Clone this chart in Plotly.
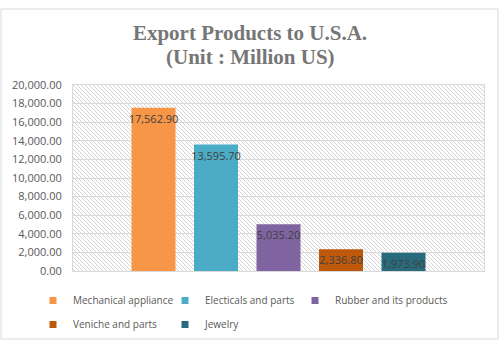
import base64
import plotly.graph_objects as go

categories = ["Mechanical appliance", "Electicals and parts", "Rubber and its products",
              "Veniche and parts", "Jewelry"]
values = [17562.90, 13595.70, 5035.20, 2336.80, 1973.90]
colors = ["#F79646", "#4BACC6", "#8064A2", "#BE590B", "#286B7C"]
y_ticks = [0, 2000, 4000, 6000, 8000, 10000, 12000, 14000, 16000, 18000, 20000]
title_lines = ["Export Products to U.S.A.", "(Unit : Million US)"]

W, H = 500, 350
L, R, T, B = 73, 16, 85, 79
PW, PH = W - L - R, H - T - B

# hatch background (diagonal lines) as an SVG image behind the plot area
svg = f'''<svg xmlns="http://www.w3.org/2000/svg" width="{PW}" height="{PH}">
<defs><pattern id="h" patternUnits="userSpaceOnUse" width="4" height="4">
<path d="M-1,-1 L5,5 M-1,3 L1,5 M3,-1 L5,1" stroke="#d4d4d4" stroke-width="1"/>
</pattern></defs><rect width="{PW}" height="{PH}" fill="url(#h)"/></svg>'''
src = "data:image/svg+xml;base64," + base64.b64encode(svg.encode()).decode()

fig = go.Figure()
fig.add_trace(go.Bar(
    x=categories, y=values, marker=dict(color=colors, line=dict(width=0)),
    text=[f"{v:,.2f}" for v in values], textposition="inside", insidetextanchor="end",
    textangle=0, constraintext="none", cliponaxis=False,
    textfont=dict(family="Open Sans", size=11, color="#404040"),
    showlegend=False, hoverinfo="skip"))

# legend laid out in three columns (one vertical legend per column)
legend_cols = ["legend", "legend2", "legend3", "legend", "legend2"]
for i, (name, c) in enumerate(zip(categories, colors)):
    fig.add_trace(go.Scatter(x=[None], y=[None], mode="markers", name=name,
                             legend=legend_cols[i], legendgroup=f"g{i}",
                             marker=dict(symbol="square", size=7, color=c)))

title_font = dict(family="Liberation Serif", size=21, color="#767676")
legend_font = dict(family="Open Sans", size=10, color="#595959")
leg_y = (T + PH - 286) / PH


def leg(px):
    return dict(orientation="v", x=(px - L) / PW, xanchor="left", y=leg_y, yanchor="top",
                itemwidth=30, font=legend_font, tracegroupgap=5,
                bgcolor="rgba(0,0,0,0)")


fig.update_layout(
    width=W, height=H, margin=dict(l=L, r=R, t=T, b=B, autoexpand=False),
    paper_bgcolor="white", plot_bgcolor="white",
    bargap=0.296,
    title=dict(text=f"<b>{title_lines[0]}</b>",
               x=0.5, xanchor="center", y=1 - 33 / H, yanchor="middle", yref="container",
               font=title_font),
    annotations=[dict(text=f"<b>{title_lines[1]}</b>", xref="paper", yref="paper",
                      x=(250 - L) / PW, y=(T + PH - 57) / PH, xanchor="center",
                      yanchor="middle", showarrow=False, font=title_font)],
    xaxis=dict(type="category", range=[-1.288, 5.288], showticklabels=False,
               showgrid=False, zeroline=False, showline=True, linecolor="#d9d9d9",
               mirror=True, fixedrange=True),
    yaxis=dict(range=[0, 20000], tickvals=y_ticks, tickformat=",.2f",
               showgrid=True, gridcolor="#d9d9d9", gridwidth=1, zeroline=False,
               showline=True, linecolor="#d9d9d9", mirror=True,
               ticklabelstandoff=8,
               tickfont=dict(family="Open Sans", size=11, color="#595959")),
    legend=leg(33), legend2=leg(165), legend3=leg(295),
    images=[dict(source=src, xref="paper", yref="paper", x=0, y=1, sizex=1, sizey=1,
                 xanchor="left", yanchor="top", sizing="stretch", layer="below")],
    shapes=[dict(type="rect", xref="paper", yref="paper",
                 x0=(1 - L) / PW, x1=(498 - L) / PW,
                 y0=(T + PH - 339) / PH, y1=(T + PH - 9) / PH,
                 line=dict(color="#d9d9d9", width=1), fillcolor="rgba(0,0,0,0)")],
)

fig.write_html("out.html")
